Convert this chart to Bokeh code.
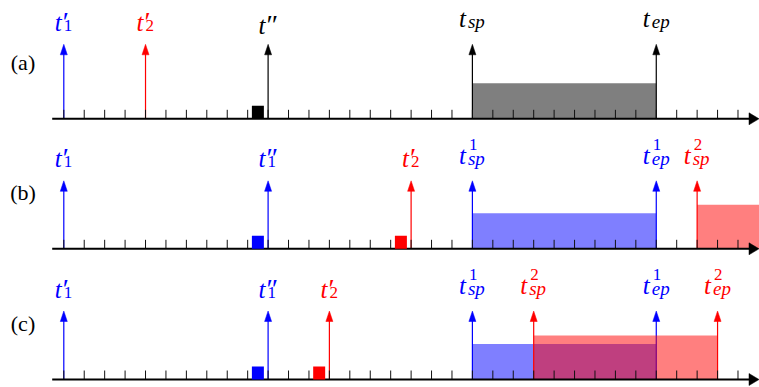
from bokeh.plotting import figure
from bokeh.models import ColumnDataSource, Range1d
from bokeh.core.properties import value
from bokeh.embed import file_html
from bokeh.resources import INLINE

# ---------------- data ----------------
ROW_LABELS = ["(a)", "(b)", "(c)"]
SLOTS = list(range(0, 34))          # time-slot tick marks on every line

# vertical event arrows: row, slot, superscript (prime / index), subscript, job
ARROW_ROW = [0, 0, 0, 0, 0,
             1, 1, 1, 1, 1, 1,
             2, 2, 2, 2, 2, 2, 2]
ARROW_T = [0, 4, 10, 20, 29,
           0, 10, 17, 20, 29, 31,
           0, 10, 13, 20, 23, 29, 32]
ARROW_SUP = ["′", "′", "″", "", "",
             "′", "″", "′", "1", "1", "2",
             "′", "″", "′", "1", "2", "1", "2"]
ARROW_SUB = ["1", "2", "", "sp", "ep",
             "1", "1", "2", "sp", "ep", "sp",
             "1", "1", "2", "sp", "sp", "ep", "ep"]
ARROW_JOB = [1, 2, 0, 0, 0,
             1, 1, 2, 1, 1, 2,
             1, 1, 2, 1, 2, 1, 2]

# execution intervals: row, start slot, end slot, job
INT_ROW = [0, 1, 1, 2, 2]
INT_START = [20, 20, 31, 20, 23]
INT_END = [29, 29, 40, 29, 32]
INT_JOB = [0, 1, 2, 1, 2]

# small request squares: row, slot centre, job
SQ_ROW = [0, 1, 1, 2, 2]
SQ_T = [9.5, 9.5, 16.5, 9.5, 12.5]
SQ_JOB = [0, 1, 2, 1, 2]

# ---------------- style / layout ----------------
W, H = 759, 387
PX = 20.43          # pixels per slot
X0_PX = 63.3        # pixel position of slot 0
ROW_AXIS_Y = [268.7, 138.7, 8.0]
ARROW_LEN = [74.5, 68.0, 68.5]
JOB_COLOR = {0: "#000000", 1: "#0000ff", 2: "#ff0000"}
BAR_H = {0: 35.6, 1: 35.5, 2: 44.0}
SQ_W, SQ_H = 12.0, 13.0
TICK_H = 9.0
HEAD_HW, HEAD_L = 3.5, 10.5
MATH_FONT = "Liberation Serif"
TEXT_FONT = "Liberation Serif"
T_ADV = 9.0
SCRIPT_W = {"′": 5.0, "″": 10.0, "1": 9.0, "2": 9.0, "sp": 18.0, "ep": 18.0}
GAP, SUB_SHIFT, DESC = 19.0, 3.0, 3.5

def px(dx):
    return dx / PX

p = figure(width=W, height=H, output_backend="svg", toolbar_location=None,
           x_range=Range1d(-X0_PX / PX, (W - X0_PX) / PX), y_range=Range1d(0, H),
           min_border=0, x_axis_location=None, y_axis_location=None)
p.grid.visible = False
p.outline_line_color = None

# ---------- texts first ----------
p.text(x=[(22.5 - X0_PX) / PX] * 3, y=[ax + 56 for ax in ROW_AXIS_Y], text=ROW_LABELS,
       text_font=value(TEXT_FONT), text_font_size="22px", text_color="black",
       text_align="center", text_baseline="middle")

main = dict(x=[], y=[], c=[])
prime = dict(x=[], y=[], s=[], c=[])
supd = dict(x=[], y=[], s=[], c=[])
subi = dict(x=[], y=[], s=[], c=[])
subd = dict(x=[], y=[], s=[], c=[])
for row, t, sup, sub, j in zip(ARROW_ROW, ARROW_T, ARROW_SUP, ARROW_SUB, ARROW_JOB):
    tip = ROW_AXIS_Y[row] + ARROW_LEN[row]
    c = JOB_COLOR[j]
    sw = max(SCRIPT_W.get(sup, 0), SCRIPT_W.get(sub, 0))
    x_start = t - px((T_ADV + sw) / 2)
    x_scr = x_start + px(T_ADV)
    if sub:
        sub_base = tip + GAP + (DESC if "p" in sub else 0)
        t_base = sub_base + SUB_SHIFT
    else:
        t_base = tip + GAP
    main["x"].append(x_start); main["y"].append(t_base); main["c"].append(c)
    if sup in ("′", "″"):
        prime["x"].append(x_scr - px(1)); prime["y"].append(t_base + 1); prime["s"].append(sup); prime["c"].append(c)
    elif sup:
        supd["x"].append(x_scr + px(1)); supd["y"].append(t_base + 11); supd["s"].append(sup); supd["c"].append(c)
    if sub:
        target = subi if sub.isalpha() else subd
        target["x"].append(x_scr); target["y"].append(sub_base); target["s"].append(sub); target["c"].append(c)

p.text(x="x", y="y", text=value("t"), text_color="c", source=ColumnDataSource(main),
       text_font=value(MATH_FONT), text_font_style="italic", text_font_size="25px",
       text_align="left", text_baseline="alphabetic")
p.text(x="x", y="y", text="s", text_color="c", source=ColumnDataSource(prime),
       text_font=value(MATH_FONT), text_font_size="28px",
       text_align="left", text_baseline="alphabetic")
p.text(x="x", y="y", text="s", text_color="c", source=ColumnDataSource(supd),
       text_font=value(MATH_FONT), text_font_size="17px",
       text_align="left", text_baseline="alphabetic")
p.text(x="x", y="y", text="s", text_color="c", source=ColumnDataSource(subi),
       text_font=value(MATH_FONT), text_font_style="italic", text_font_size="19px",
       text_align="left", text_baseline="alphabetic")
p.text(x="x", y="y", text="s", text_color="c", source=ColumnDataSource(subd),
       text_font=value(MATH_FONT), text_font_size="17px",
       text_align="left", text_baseline="alphabetic")

# ---------- bars and arrows ----------
def draw_bars(jobs):
    d = dict(l=[], r=[], b=[], t=[], c=[])
    for row, s, e, j in zip(INT_ROW, INT_START, INT_END, INT_JOB):
        if j in jobs:
            ax = ROW_AXIS_Y[row]
            d["l"].append(s); d["r"].append(e)
            d["b"].append(ax); d["t"].append(ax + BAR_H[j]); d["c"].append(JOB_COLOR[j])
    p.quad(left="l", right="r", bottom="b", top="t", fill_color="c", fill_alpha=0.5,
           line_color=None, source=ColumnDataSource(d))

def draw_arrows(jobs):
    seg = dict(x=[], y0=[], y1=[], c=[])
    head = dict(xs=[], ys=[], c=[])
    for row, t, j in zip(ARROW_ROW, ARROW_T, ARROW_JOB):
        if j in jobs:
            ax = ROW_AXIS_Y[row]; tip = ax + ARROW_LEN[row]
            seg["x"].append(t); seg["y0"].append(ax); seg["y1"].append(tip - HEAD_L + 1)
            seg["c"].append(JOB_COLOR[j])
            head["xs"].append([t - px(HEAD_HW), t, t + px(HEAD_HW)])
            head["ys"].append([tip - HEAD_L, tip, tip - HEAD_L])
            head["c"].append(JOB_COLOR[j])
    p.segment(x0="x", x1="x", y0="y0", y1="y1", line_color="c", line_width=1.2,
              source=ColumnDataSource(seg))
    p.patches(xs="xs", ys="ys", fill_color="c", line_color="c", line_width=0.5,
              source=ColumnDataSource(head))

draw_bars([0, 1])
draw_arrows([0, 1])
draw_bars([2])
draw_arrows([2])

# timeline ticks and axis lines
tk = dict(x=[], y0=[], y1=[])
for ax in ROW_AXIS_Y:
    for s in SLOTS:
        tk["x"].append(s); tk["y0"].append(ax); tk["y1"].append(ax + TICK_H)
p.segment(x0="x", x1="x", y0="y0", y1="y1", line_color="#111111", line_width=1,
          source=ColumnDataSource(tk))
x_end = (W - 0.5 - X0_PX) / PX
p.segment(x0=[(51.7 - X0_PX) / PX] * 3, x1=[x_end - px(8)] * 3, y0=ROW_AXIS_Y, y1=ROW_AXIS_Y,
          line_color="black", line_width=2)
p.patches(xs=[[x_end - px(10), x_end, x_end - px(10)] for _ in ROW_AXIS_Y],
          ys=[[ax - 6, ax, ax + 6] for ax in ROW_AXIS_Y],
          fill_color="black", line_color="black", line_width=0.5)

# request squares
sq = dict(l=[], r=[], b=[], t=[], c=[])
for row, t, j in zip(SQ_ROW, SQ_T, SQ_JOB):
    ax = ROW_AXIS_Y[row]
    sq["l"].append(t - px(SQ_W / 2)); sq["r"].append(t + px(SQ_W / 2))
    sq["b"].append(ax); sq["t"].append(ax + SQ_H); sq["c"].append(JOB_COLOR[j])
p.quad(left="l", right="r", bottom="b", top="t", fill_color="c", line_color=None,
       source=ColumnDataSource(sq))

open("out.html", "w").write(file_html(p, INLINE))
